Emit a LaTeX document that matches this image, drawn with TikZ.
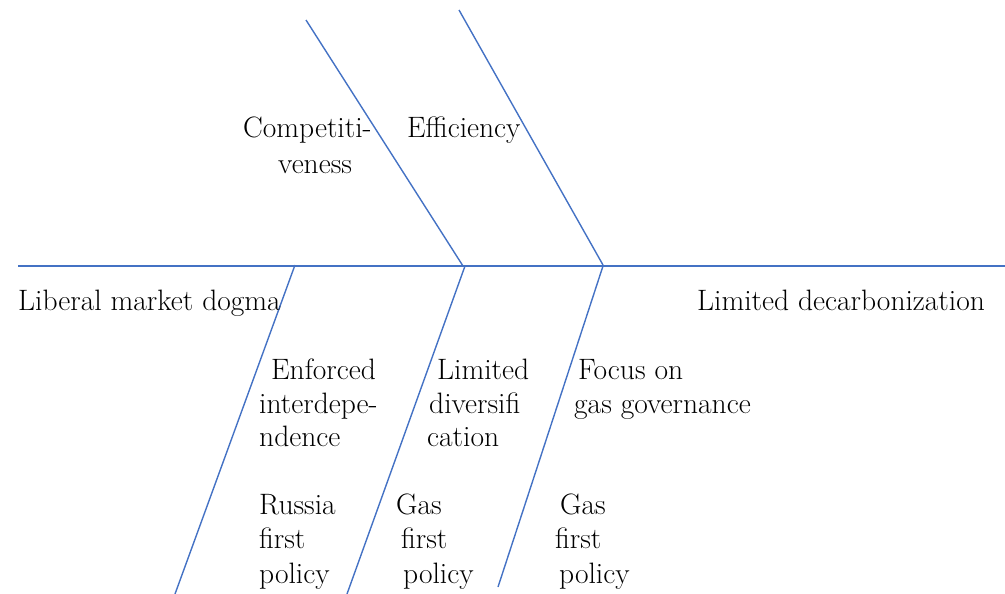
\documentclass[tikz,border=0pt]{standalone}
\begin{document}
\begin{tikzpicture}[x=1pt,y=-1pt,
  bone/.style={draw={rgb,255:red,68;green,114;blue,196},line width=1.4pt},
  lbl/.style={inner sep=0pt,anchor=base west,font=\fontsize{29.5}{35}\selectfont}]
\useasboundingbox (0,0) rectangle (1005,594);
% spine
\coordinate (s0) at (18,266);
\coordinate (s1) at (1005,266);
\draw[bone] (s0) -- (s1);
% upper bones
\coordinate (u1a) at (306,20);  \coordinate (u1b) at (463,266);
\coordinate (u2a) at (459,10);  \coordinate (u2b) at (603,265);
\draw[bone] (u1a) -- (u1b);
\draw[bone] (u2a) -- (u2b);
% lower bones
\coordinate (l1a) at (295,265); \coordinate (l1b) at (175,594);
\coordinate (l2a) at (465,266); \coordinate (l2b) at (347,594);
\coordinate (l3a) at (603,266); \coordinate (l3b) at (498,587);
\draw[bone] (l1a) -- (l1b);
\draw[bone] (l2a) -- (l2b);
\draw[bone] (l3a) -- (l3b);
% labels
\node[lbl] (c1) at (243,138) {Competiti-};
\node[lbl] (c2) at (278,173) {veness};
\node[lbl] (ef) at (407,138) {Efficiency};
\node[lbl] (lib) at (18,310) {Liberal market dogma};
\node[lbl] (dec) at (697,310) {Limited decarbonization};
\node[lbl] (e1) at (271,379) {Enforced};
\node[lbl] (e2) at (259,413) {interdepe-};
\node[lbl] (e3) at (259,446) {ndence};
\node[lbl] (d1) at (437,379) {Limited};
\node[lbl] (d2) at (429,413) {diversifi};
\node[lbl] (d3) at (427,446) {cation};
\node[lbl] (f1) at (578,379) {Focus on};
\node[lbl] (f2) at (574,413) {gas governance};
\node[lbl] (r1) at (259,514) {Russia};
\node[lbl] (r2) at (259,548) {first};
\node[lbl] (r3) at (259,583) {policy};
\node[lbl] (g1) at (396,514) {Gas};
\node[lbl] (g2) at (401,548) {first};
\node[lbl] (g3) at (403,583) {policy};
\node[lbl] (h1) at (560,514) {Gas};
\node[lbl] (h2) at (555,548) {first};
\node[lbl] (h3) at (559,583) {policy};
\end{tikzpicture}
\end{document}
